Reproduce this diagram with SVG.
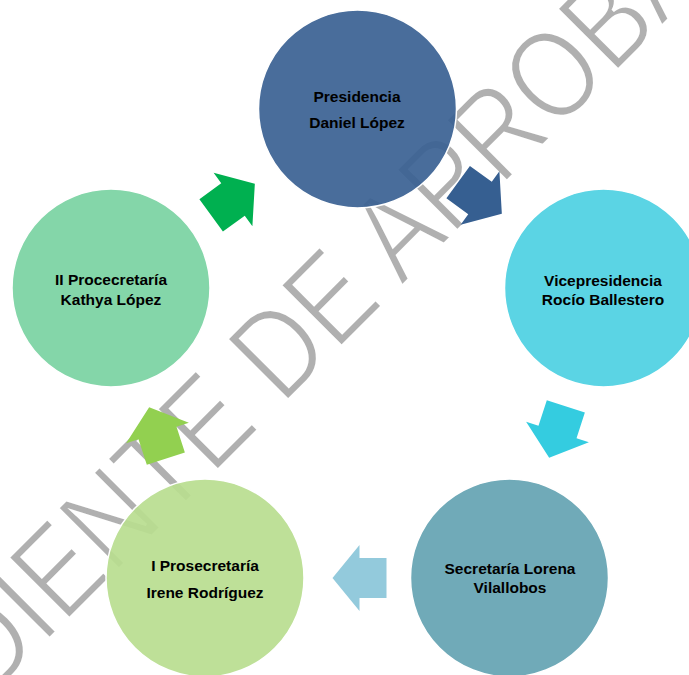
<svg xmlns="http://www.w3.org/2000/svg" width="689" height="675" viewBox="0 0 689 675">
<style>
.wm{font-family:"Liberation Sans",Arial,sans-serif;font-size:105px;fill:#b0b0b0;stroke:#ffffff;stroke-width:2.6px}
.node circle{stroke:#ffffff;stroke-width:1.5;fill-opacity:0.92}
.lbl{font-family:"Liberation Sans",Arial,sans-serif;font-size:15.5px;font-weight:bold;fill:#000000;text-anchor:middle}
</style>
<defs>
<path id="arr" d="M-27,-20 H0 V-33 L27,0 L0,33 V20 H-27 Z"/>
</defs>
<rect width="689" height="675" fill="#ffffff"/>
<text class="wm" transform="translate(-163.3,851.7) rotate(-45) scale(1,1.2)">PENDIENTE DE APROBACIÓN</text>
<g id="presidencia" class="node">
<circle cx="357.5" cy="109" r="99" fill="#3a6193"/>
<text class="lbl" x="357" y="102">Presidencia</text>
<text class="lbl" x="357" y="128">Daniel López</text>
</g>
<g id="vicepresidencia" class="node">
<circle cx="603.5" cy="288" r="99" fill="#4dd0e2"/>
<text class="lbl" x="603" y="286">Vicepresidencia</text>
<text class="lbl" x="603" y="305">Rocío Ballestero</text>
</g>
<g id="secretaria" class="node">
<circle cx="509.5" cy="578" r="99" fill="#64a3b2"/>
<text class="lbl" x="510" y="574">Secretaría Lorena</text>
<text class="lbl" x="510" y="593">Vilallobos</text>
</g>
<g id="prosecretaria1" class="node">
<circle cx="205" cy="578" r="99" fill="#b8dd8f"/>
<text class="lbl" x="205" y="571">I Prosecretaría</text>
<text class="lbl" x="205" y="598">Irene Rodríguez</text>
</g>
<g id="procecretaria2" class="node">
<circle cx="111" cy="288" r="99" fill="#79d3a2"/>
<text class="lbl" x="111" y="285">II Procecretaría</text>
<text class="lbl" x="111" y="305">Kathya López</text>
</g>
<g id="connectors">
<use href="#arr" fill="#00b050" transform="translate(233,199.5) rotate(-36)"/>
<use href="#arr" fill="#365f91" transform="translate(480,198) rotate(36)"/>
<use href="#arr" fill="#34cce0" transform="translate(557.5,432) rotate(108)"/>
<use href="#arr" fill="#93cadc" transform="translate(359.5,578) rotate(180)"/>
<use href="#arr" fill="#92d050" transform="translate(157.5,433) rotate(252)"/>
</g>
</svg>
